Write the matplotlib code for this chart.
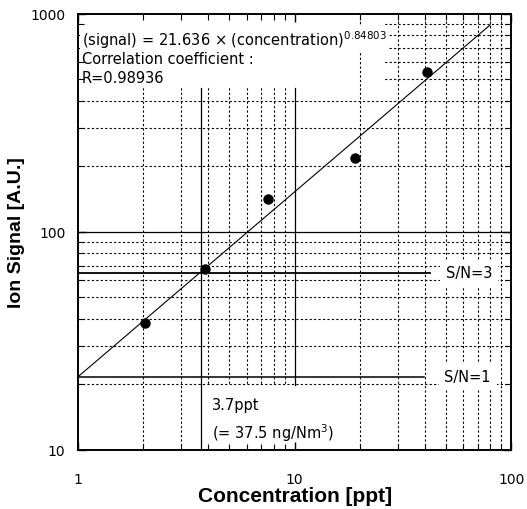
import numpy as np
import matplotlib
matplotlib.use('Agg')
import matplotlib.pyplot as plt
from matplotlib.patches import Rectangle

plt.rcParams['font.family'] = ['DejaVu Sans']
plt.rcParams['mathtext.default'] = 'regular'

# measured points
conc = [2.04, 3.86, 7.52, 19.1, 40.8]
signal = [38.1, 67.8, 141, 219, 538]

# fit from the chart text
fit_a = 21.636
fit_b = 0.84803
fit_r = 0.98936
fit_xmax = 80

lod_conc = 3.7
lod_ng = 37.5
sn1_level = 21.636
sn3_level = 65.0

fig = plt.figure(figsize=(5.27, 5.10), dpi=100)
ax = fig.add_axes([0.148, 0.116, 0.822, 0.855])
ax.set_xscale('log')
ax.set_yscale('log')
ax.set_xlim(1, 100)
ax.set_ylim(10, 1000)

grid_kw = dict(color='k', lw=0.8, ls=(0, (2, 2)))
# dotted grid on minor ticks, drawn by hand so white boxes can hide it
for d in [1, 10]:
    for k in range(2, 10):
        ax.axvline(k * d, zorder=0.5, **grid_kw)
for d in [10, 100]:
    for k in range(2, 10):
        ax.axhline(k * d, zorder=0.5, **grid_kw)

# white areas behind text
ax.add_patch(Rectangle((1, 465), 25, 535, facecolor='white', edgecolor='none', zorder=1))
ax.add_patch(Rectangle((3.78, 10), 15.0, 9.6, facecolor='white', edgecolor='none', zorder=1))
ax.plot([20, 20], [465, 1000], zorder=1.1, **grid_kw)

# guide lines
ax.axhline(100, color='k', lw=0.9, zorder=2)
ax.plot([1, 42], [sn3_level, sn3_level], color='k', lw=1.3, zorder=2)
ax.plot([1, 39.7], [sn1_level, sn1_level], color='k', lw=1.1, zorder=2)
ax.plot([lod_conc, lod_conc], [10, 455], color='k', lw=0.9, zorder=2)
ax.plot([10, 10], [19.8, 455], color='k', lw=0.9, zorder=2)

# fitted line
xf = np.geomspace(1, fit_xmax, 60)
ax.plot(xf, fit_a * xf ** fit_b, color='k', lw=0.8, zorder=3)

ax.plot(conc, signal, 'o', color='k', ms=6.5, zorder=4)

txt_kw = dict(fontsize=10.5, zorder=5)
ax.text(1.04, 768, '(signal) = %.3f \u00d7 (concentration)$^{%.5f}$' % (fit_a, fit_b),
        va='center', ha='left',
        bbox=dict(facecolor='white', edgecolor='none', pad=1.5), **txt_kw)
ax.text(1.04, 622, 'Correlation coefficient :', va='center', ha='left', **txt_kw)
ax.text(1.04, 508, 'R=%.5f' % fit_r, va='center', ha='left', **txt_kw)

ax.text(4.15, 16.2, '%.1fppt' % lod_conc, va='center', ha='left', **txt_kw)
ax.text(4.15, 12.1, '(= %.1f ng/Nm$^3$)' % lod_ng, va='center', ha='left', **txt_kw)

sn_box = dict(facecolor='white', edgecolor='none', pad=4)
ax.text(64, sn3_level, 'S/N=3', va='center', ha='center', bbox=sn_box, **txt_kw)
ax.text(63, sn1_level, 'S/N=1', va='center', ha='center', bbox=sn_box, **txt_kw)

ax.tick_params(which='both', direction='in', top=True, right=True)
ax.tick_params(which='major', length=6, width=1)
ax.tick_params(which='minor', length=4, width=0.8)
ax.tick_params(axis='x', which='major', pad=16, labelsize=10)
ax.tick_params(axis='y', which='major', pad=9, labelsize=10)
ax.set_xticks([1, 10, 100])
ax.set_xticklabels(['1', '10', '100'])
ax.set_yticks([10, 100, 1000])
ax.set_yticklabels(['10', '100', '1000'])
for s in ax.spines.values():
    s.set_linewidth(1.4)

lab_kw = dict(fontweight='bold', family=['Liberation Sans', 'DejaVu Sans'])
ax.set_xlabel('Concentration [ppt]', fontsize=15, labelpad=0, **lab_kw)
ax.set_ylabel('Ion Signal [A.U.]', fontsize=14, labelpad=4, **lab_kw)

fig.savefig('out.png', dpi=100)
